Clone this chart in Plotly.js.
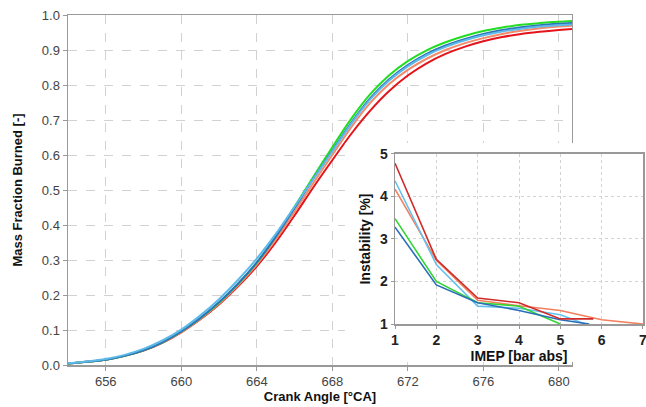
<!DOCTYPE html>
<html>
<head>
<meta charset="utf-8">
<script src="https://cdn.plot.ly/plotly-3.0.1.min.js"></script>
<style>html,body{margin:0;padding:0;background:#fff;}#chart{width:646px;height:407px;}</style>
</head>
<body>
<div id="chart"></div>
<script>
// Main chart: crank angle [°CA]
const crankAngle = [654,655,656,657,658,659,660,661,662,663,664,665,666,667,668,669,670,671,672,673,674,675,676,677,678,679,680,680.7];
const mfbRed       = [0.004,0.009,0.015,0.026,0.041,0.063,0.093,0.130,0.173,0.224,0.282,0.350,0.427,0.508,0.585,0.660,0.726,0.782,0.827,0.862,0.889,0.909,0.925,0.937,0.946,0.952,0.957,0.960];
const mfbOrange    = [0.004,0.009,0.015,0.026,0.042,0.064,0.094,0.131,0.175,0.227,0.287,0.358,0.438,0.520,0.600,0.679,0.748,0.802,0.843,0.875,0.900,0.919,0.934,0.946,0.955,0.962,0.967,0.969];
const mfbLightBlue = [0.005,0.010,0.017,0.029,0.046,0.070,0.101,0.141,0.188,0.243,0.304,0.374,0.452,0.532,0.610,0.689,0.758,0.812,0.853,0.885,0.909,0.927,0.942,0.953,0.961,0.967,0.971,0.973];
const mfbBlue      = [0.004,0.009,0.015,0.026,0.042,0.065,0.096,0.134,0.179,0.232,0.293,0.366,0.448,0.532,0.612,0.692,0.762,0.816,0.857,0.889,0.913,0.931,0.946,0.957,0.965,0.971,0.975,0.977];
const mfbGreen     = [0.004,0.009,0.015,0.026,0.042,0.065,0.096,0.134,0.178,0.231,0.292,0.367,0.452,0.538,0.622,0.703,0.773,0.827,0.868,0.899,0.922,0.940,0.954,0.964,0.972,0.977,0.981,0.983];
const crankTicks = [656,660,664,668,672,676,680];

// Inset: instability vs IMEP
const imepRed = [1,2,3,4,5,5.8];
const instRed = [4.78,2.52,1.61,1.50,1.12,1.12];
const imepOrange = [1,2,3,4,5,6,7];
const instOrange = [4.17,2.50,1.56,1.43,1.32,1.10,1.00];
const imepLightBlue = [1,2,3,4,5,5.6];
const instLightBlue = [4.37,2.40,1.42,1.37,1.22,1.00];
const imepGreen = [1,2,3,4,5];
const instGreen = [3.48,2.00,1.50,1.42,1.00];
const imepBlue = [1,2,3,4,5,5.7];
const instBlue = [3.28,1.92,1.50,1.32,1.10,1.00];
const imepTicks = [1,2,3,4,5,6,7];
const instTicks = [1,2,3,4,5];

const FONT = 'Liberation Sans, Arial, sans-serif';
const C = {red:'#E3141B', orange:'#F28A6B', light:'#5DB9EA', blue:'#2A74B8', green:'#22DD22'};
const CI = {red:'#D02A2A', orange:'#F0805E', light:'#66C0EE', blue:'#2A6EB8', green:'#33D633'};

function mainLine(y, color){
  return {x: crankAngle, y: y, type:'scatter', mode:'lines', xaxis:'x', yaxis:'y',
          line:{color:color, width:2, shape:'spline', smoothing:0.8}, hoverinfo:'skip'};
}
function insetLine(x, y, color){
  return {x: x, y: y, type:'scatter', mode:'lines', xaxis:'x3', yaxis:'y3',
          line:{color:color, width:1.6}, hoverinfo:'skip'};
}

const traces = [
  mainLine(mfbRed, C.red),
  mainLine(mfbOrange, C.orange),
  mainLine(mfbGreen, C.green),
  mainLine(mfbBlue, C.blue),
  mainLine(mfbLightBlue, C.light),
  {x:[], y:[], type:'scatter', mode:'lines', xaxis:'x2', yaxis:'y2', hoverinfo:'skip'},
  insetLine(imepOrange, instOrange, CI.orange),
  insetLine(imepLightBlue, instLightBlue, CI.light),
  insetLine(imepGreen, instGreen, CI.green),
  insetLine(imepBlue, instBlue, CI.blue),
  insetLine(imepRed, instRed, CI.red)
];

const axCommon = {showline:true, linecolor:'#999', linewidth:1.5, mirror:true, zeroline:false,
  showgrid:true, gridcolor:'#d2d2d2', gridwidth:1, ticks:'outside', tickcolor:'#999'};

const layout = {
  width:646, height:407,
  margin:{l:68, r:3, t:15, b:42},
  paper_bgcolor:'#fff', plot_bgcolor:'#fff',
  showlegend:false,
  font:{family:FONT, color:'#333'},
  xaxis: Object.assign({}, axCommon, {
    domain:[0,0.8765], range:[654,680.7], anchor:'y', tickvals:crankTicks, ticklen:4,
    griddash:'dash', tickfont:{size:13, color:'#444'},
    title:{text:'<b>Crank Angle [°CA]</b>', font:{size:13, color:'#111'}, standoff:4}
  }),
  yaxis: Object.assign({}, axCommon, {
    domain:[0,1], range:[0,1], anchor:'x', dtick:0.1, tick0:0, tickformat:'.1f', ticklen:4,
    griddash:'dash', tickfont:{size:13, color:'#444'},
    title:{text:'<b>Mass Fraction Burned [-]</b>', font:{size:13, color:'#111'}, standoff:16}
  }),
  xaxis2:{domain:[0.4817,1], anchor:'y2', range:[0,1], visible:false, fixedrange:true},
  yaxis2:{domain:[0.0086,0.634], anchor:'x2', range:[0,1], visible:false, fixedrange:true},
  xaxis3: Object.assign({}, axCommon, {
    domain:[0.5687,1], anchor:'y3', range:[1,7.0001], tickvals:imepTicks, ticklen:3,
    ticklabeloverflow:'allow',
    griddash:'dot', tickfont:{size:14, color:'#222', weight:'bold'},
    title:{text:'<b>IMEP [bar abs]</b>', font:{size:14, color:'#111'}, standoff:2}
  }),
  yaxis3: Object.assign({}, axCommon, {
    domain:[0.1171,0.6029], anchor:'x3', range:[1,5], tickvals:instTicks, ticklen:3,
    griddash:'dot', tickfont:{size:14, color:'#222', weight:'bold'},
    title:{text:'<b>Instability [%]</b>', font:{size:14, color:'#111'}, standoff:6}
  })
};

Plotly.newPlot('chart', traces, layout, {staticPlot:true, displayModeBar:false});
</script>
</body>
</html>
